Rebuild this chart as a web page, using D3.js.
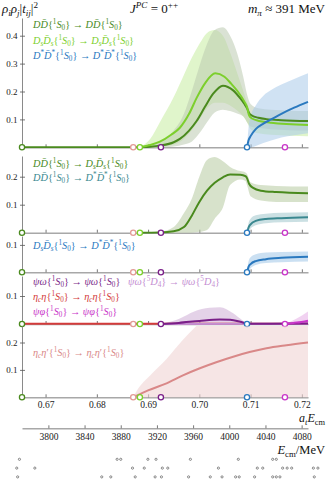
<!DOCTYPE html>
<html>
<head>
<meta charset="utf-8">
<script src="https://cdn.jsdelivr.net/npm/d3@7"></script>
<style>
  body { margin: 0; background: #fff; }
  svg { display: block; }
  text { font-family: "Liberation Serif", "DejaVu Serif", serif; }
</style>
</head>
<body>
<div id="chart-area"></div>
<script>
//============================ DATA ============================
// x axis in lattice units a_t E_cm, second axis in MeV
var xTicks = [0.67, 0.68, 0.69, 0.70, 0.71, 0.72];
var mevTicks = [3800, 3840, 3880, 3920, 3960, 4000, 4040, 4080];
var atInv = 5667; // a_t^-1 in MeV

// thresholds: DD, eta_c eta', DsDs, psi omega, D*D*, psi phi
var thresholds = [0.6654, 0.6871, 0.6884, 0.6925, 0.7093, 0.7167];

// panel 1 : [E, value]
var lineDD = [[0.6654,0],[0.6884,0],[0.6904,0.002],[0.6923,0.006],[0.6950,0.018],[0.6962,0.03],[0.6980,0.06],
  [0.6995,0.095],[0.7011,0.145],[0.7027,0.192],[0.7046,0.221],[0.7066,0.204],[0.7080,0.175],[0.7088,0.155],
  [0.7093,0.14],[0.7097,0.123],[0.7103,0.113],[0.7115,0.106],[0.7131,0.101],[0.7160,0.097],[0.7212,0.094]];
var lineDsDs = [[0.6884,0],[0.6904,0.008],[0.6923,0.02],[0.6945,0.045],[0.6962,0.07],[0.6980,0.12],[0.6995,0.178],
  [0.7012,0.232],[0.7031,0.265],[0.7049,0.253],[0.7062,0.228],[0.7075,0.2],[0.7089,0.16],[0.7093,0.145],
  [0.7097,0.115],[0.7103,0.103],[0.7112,0.097],[0.7140,0.088],[0.7212,0.08]];
var lineDstarDstar = [[0.7093,0],[0.7096,0.025],[0.7100,0.04],[0.7110,0.065],[0.7125,0.085],[0.7140,0.10],
  [0.7160,0.12],[0.7185,0.142],[0.7212,0.163]];
// bands : [E, low, high]
var bandDD = [[0.6884,0,0.003],[0.6923,0,0.02],[0.6950,0.003,0.06],[0.6970,0.01,0.12],[0.6985,0.02,0.2],
  [0.7000,0.05,0.29],[0.7015,0.09,0.37],[0.7030,0.125,0.42],[0.7046,0.135,0.43],[0.7060,0.13,0.40],
  [0.7075,0.12,0.33],[0.7086,0.11,0.25],[0.7093,0.09,0.19],[0.7100,0.075,0.155],[0.7115,0.07,0.14],
  [0.7140,0.065,0.135],[0.7212,0.06,0.13]];
var bandDsDs = [[0.6884,0,0],[0.6904,0,0.03],[0.6923,0.002,0.09],[0.6950,0.01,0.18],[0.6970,0.03,0.26],
  [0.6985,0.06,0.32],[0.7000,0.10,0.37],[0.7015,0.14,0.41],[0.7030,0.16,0.42],[0.7046,0.16,0.40],
  [0.7060,0.15,0.34],[0.7075,0.13,0.26],[0.7086,0.11,0.20],[0.7093,0.09,0.16],[0.7100,0.065,0.125],
  [0.7115,0.05,0.11],[0.7140,0.045,0.105],[0.7212,0.04,0.10]];
var bandDstarDstar = [[0.7093,0,0],[0.7096,0,0.07],[0.7100,0,0.11],[0.7110,0.005,0.15],[0.7125,0.015,0.185],
  [0.7140,0.024,0.205],[0.7160,0.035,0.225],[0.7185,0.043,0.245],[0.7212,0.05,0.265]];

// panel 2
var lineDDtoDsDs = [[0.6884,0],[0.6923,0.001],[0.6950,0.005],[0.6970,0.02],[0.6985,0.06],[0.7000,0.11],
  [0.7015,0.15],[0.7030,0.178],[0.7046,0.198],[0.7060,0.208],[0.7080,0.207],[0.7090,0.202],[0.7093,0.195],
  [0.7097,0.175],[0.7105,0.16],[0.7120,0.15],[0.7150,0.145],[0.7212,0.141]];
var bandDDtoDsDs = [[0.6884,0,0],[0.6923,0,0.003],[0.6950,0,0.02],[0.6970,0,0.07],[0.6985,0,0.12],
  [0.7000,0.003,0.20],[0.7015,0.01,0.26],[0.7030,0.05,0.27],[0.7046,0.09,0.255],[0.7060,0.17,0.235],
  [0.7080,0.19,0.22],[0.7090,0.185,0.215],[0.7093,0.17,0.21],[0.7100,0.13,0.18],[0.7120,0.115,0.17],
  [0.7150,0.11,0.167],[0.7212,0.11,0.165]];
var lineDDtoDstar = [[0.7093,0],[0.7096,0.018],[0.7100,0.03],[0.7110,0.042],[0.7130,0.049],[0.7160,0.052],[0.7212,0.055]];
var bandDDtoDstar = [[0.7093,0,0],[0.7096,0.005,0.035],[0.7100,0.015,0.05],[0.7110,0.027,0.062],
  [0.7130,0.034,0.068],[0.7160,0.037,0.071],[0.7212,0.039,0.073]];

// panel 3
var lineDsDstoDstar = [[0.7093,0],[0.7096,0.02],[0.7100,0.03],[0.7110,0.041],[0.7130,0.048],[0.7160,0.053],[0.7212,0.057]];
var bandDsDstoDstar = [[0.7093,0,0],[0.7096,0.005,0.04],[0.7100,0.015,0.055],[0.7110,0.027,0.066],
  [0.7130,0.034,0.072],[0.7160,0.037,0.074],[0.7212,0.039,0.076]];

// panel 4
var lineEtaEta = [[0.6654,0.001],[0.7212,0.001]];
var linePsiOmegaD = [[0.6925,0],[0.7212,0.001]];
var linePsiOmega = [[0.6925,0],[0.6960,0.004],[0.7000,0.011],[0.7040,0.016],[0.7060,0.015],[0.7080,0.008],
  [0.7093,0.002],[0.7110,0.001],[0.7212,0.002]];
var bandPsiOmega = [[0.6925,0,0],[0.6950,0,0.012],[0.6962,0,0.02],[0.6990,0,0.045],[0.7020,0.002,0.058],
  [0.7040,0.004,0.06],[0.7066,0.003,0.038],[0.7085,0,0.012],[0.7093,0,0.004],[0.7110,0,0.003],[0.7212,0,0.003]];
var linePsiPhi = [[0.7167,0],[0.7190,0.005],[0.7212,0.012]];
var bandPsiPhi = [[0.7167,0,0],[0.7190,0,0.02],[0.7212,0,0.045]];

// panel 5
var lineEtaEtap = [[0.6871,0],[0.6880,0.008],[0.6900,0.025],[0.6936,0.051],[0.6968,0.08],[0.7001,0.106],
  [0.7033,0.128],[0.7066,0.148],[0.7098,0.165],[0.7131,0.179],[0.7170,0.19],[0.7212,0.2]];
var bandEtaEtap = [[0.6871,0,0],[0.6880,0,0.03],[0.6904,0,0.08],[0.6936,0,0.14],[0.6968,0,0.21],
  [0.6994,0,0.26],[0.7030,0,0.32],[0.7212,0,0.5]];

// finite-volume levels (MeV), three rows
var levelsRow1 = [3768, 3876, 3880, 3910, 3919, 3957, 4010, 4048, 4052];
var levelsRow2 = [3765, 3785, 3893, 3906, 3926, 3932, 3988, 4031, 4037, 4059, 4064, 4069, 4093, 4098];
var levelsRow3 = [3766, 3859, 3869, 3896, 3918, 3925, 3955, 3979, 3992, 4007, 4011, 4028, 4048, 4052, 4056, 4094];

//============================ LAYOUT ============================
var W = 327, H = 479;
var colors = {
  dd: "#4a8a1e", ds: "#7ccf2c", dstar: "#2a79bf", teal: "#3a8890",
  psiw: "#7a1f88", psiwD: "#c48ed2", eta: "#d33b3b", psiphi: "#c935c9", etap: "#d98888"
};
var thresholdColors = [colors.dd, "#e29a95", colors.ds, colors.psiw, colors.dstar, colors.psiphi];

var svg = d3.select("#chart-area").append("svg")
  .attr("width", W).attr("height", H);

var x = d3.scaleLinear().domain([0.6654, 0.7212]).range([22, 308]);
var xMeV = d3.scaleLinear().domain(x.domain().map(function(d){ return d * atInv; })).range(x.range());

// small markup: ^x / _x raise/lower, [..] groups, `..` roman letters
function richText(sel, str, size) {
  var segs = [], i = 0, roman = false;
  while (i < str.length) {
    var c = str[i], t;
    if (c === '`') { roman = !roman; i++; continue; }
    if (c === '^' || c === '_') {
      var pos = c === '^' ? 1 : -1; i++;
      var rm = roman;
      if (str[i] === '[') { var j = str.indexOf(']', i); t = str.slice(i + 1, j); i = j + 1; }
      else { t = str[i]; i++; }
      if (t[0] === '`') { rm = true; t = t.replace(/`/g, ''); }
      segs.push({ t: t, pos: pos, roman: rm });
      continue;
    }
    t = c; i++;
    while (i < str.length && /[\u0300-\u036f]/.test(str[i])) { t += str[i]; i++; }
    segs.push({ t: t, pos: 0, roman: roman });
  }
  var cur = 0;
  segs.forEach(function(s) {
    var italic = !s.roman && /[A-Za-z\u0370-\u03ff]/.test(s.t);
    var off = s.pos === 1 ? -0.38 * size : (s.pos === -1 ? 0.22 * size : 0);
    sel.append("tspan")
      .attr("dy", (off - cur).toFixed(2))
      .style("font-size", (s.pos ? size * 0.7 : size) + "px")
      .style("font-style", italic ? "italic" : "normal")
      .text(s.t);
    cur = off;
  });
  return sel;
}

function label(g, xp, yp, str, color, size, anchor) {
  var t = g.append("text").attr("x", xp).attr("y", yp)
    .attr("fill", color).attr("text-anchor", anchor || "start");
  richText(t, str, size);
}

var panels = [
  { base: 147.3, ppu: 279, top: 18, yt: [0.1, 0.2, 0.3, 0.4],
    bands: [[bandDsDs, "#c6eca0", 0.55], [bandDD, "#bccbb0", 0.55], [bandDstarDstar, "#a9cbe9", 0.55]],
    lines: [[lineDD, colors.dd], [lineDsDs, colors.ds], [lineDstarDstar, colors.dstar]],
    labels: [["DD\u0304{^1S_0} \u2192 DD\u0304{^1S_0}", colors.dd, 28],
             ["D_sD\u0304_s{^1S_0} \u2192 D_sD\u0304_s{^1S_0}", colors.ds, 43.5],
             ["D^*D\u0304^*{^1S_0} \u2192 D^*D\u0304^*{^1S_0}", colors.dstar, 58.5]] },
  { base: 232.7, ppu: 280, top: 156, yt: [0.1, 0.2],
    bands: [[bandDDtoDsDs, "#bccfa8", 0.6], [bandDDtoDstar, "#a8cbd0", 0.6]],
    lines: [[lineDDtoDsDs, colors.dd], [lineDDtoDstar, colors.teal]],
    labels: [["DD\u0304{^1S_0} \u2192 D_sD\u0304_s{^1S_0}", colors.dd, 167],
             ["DD\u0304{^1S_0} \u2192 D^*D\u0304^*{^1S_0}", colors.teal, 180.5]] },
  { base: 272.3, ppu: 274, top: 236, yt: [0.1],
    bands: [[bandDsDstoDstar, "#a9cbe9", 0.6]],
    lines: [[lineDsDstoDstar, colors.dstar]],
    labels: [["D_sD\u0304_s{^1S_0} \u2192 D^*D\u0304^*{^1S_0}", colors.dstar, 248.5]] },
  { base: 324, ppu: 280, top: 276, yt: [0.1],
    bands: [[bandPsiOmega, "#c9a6d2", 0.5], [bandPsiPhi, "#e3a6e3", 0.5]],
    lines: [[lineEtaEta, colors.eta], [linePsiOmegaD, colors.psiwD], [linePsiOmega, colors.psiw], [linePsiPhi, colors.psiphi]],
    labels: [["\u03c8\u03c9{^1S_0} \u2192 \u03c8\u03c9{^1S_0}", colors.psiw, 284.5],
             ["\u03b7_c\u03b7{^1S_0} \u2192 \u03b7_c\u03b7{^1S_0}", colors.eta, 299.5],
             ["\u03c8\u03c6{^1S_0} \u2192 \u03c8\u03c6{^1S_0}", colors.psiphi, 314.5]],
    extra: ["\u03c8\u03c9{^5D_4} \u2192 \u03c8\u03c9{^5D_4}", colors.psiwD, 128, 284.5] },
  { base: 397.3, ppu: 274, top: 326, yt: [0.1, 0.2],
    bands: [[bandEtaEtap, "#f0d4d4", 0.6]],
    lines: [[lineEtaEtap, colors.etap]],
    labels: [["\u03b7_c\u03b7\u2032{^1S_0} \u2192 \u03b7_c\u03b7\u2032{^1S_0}", colors.etap, 356]] }
];

panels.forEach(function(p, k) {
  var y = d3.scaleLinear().domain([0, (p.base - p.top) / p.ppu]).range([p.base, p.top]);
  var g = svg.append("g");

  g.append("clipPath").attr("id", "clip" + k)
    .append("rect").attr("x", 22).attr("y", p.top).attr("width", 287).attr("height", p.base - p.top + 1);

  // axes
  var xa = g.append("g").attr("class", "x axis")
    .attr("transform", "translate(0," + p.base + ")")
    .call(d3.axisBottom(x).tickValues(xTicks).tickSize(-3).tickSizeOuter(0).tickPadding(4)
      .tickFormat(k === panels.length - 1 ? d3.format(".2f") : ""));
  xa.select(".domain").attr("stroke", "#a8a8a8").attr("stroke-width", 1.4);
  xa.selectAll(".tick line").attr("stroke", "#555").attr("stroke-width", 0.8);
  xa.selectAll("text").attr("font-size", "9.5px").attr("fill", "#222")
    .attr("font-family", "Liberation Serif, serif");

  var ya = g.append("g").attr("class", "y axis")
    .attr("transform", "translate(22,0)")
    .call(d3.axisLeft(y).tickValues(p.yt).tickSize(-3).tickSizeOuter(0).tickPadding(4.5).tickFormat(d3.format(".1f")));
  ya.select(".domain").attr("stroke", "#8a8a8a").attr("stroke-width", 1);
  ya.selectAll(".tick line").attr("stroke", "#555").attr("stroke-width", 0.8).attr("x1", -2);
  ya.selectAll("text").attr("font-size", "9px").attr("fill", "#222")
    .attr("font-family", "Liberation Serif, serif");

  var body = g.append("g").attr("clip-path", "url(#clip" + k + ")");

  var area = d3.area().curve(d3.curveMonotoneX)
    .x(function(d){ return x(d[0]); })
    .y0(function(d){ return y(d[1]); })
    .y1(function(d){ return y(d[2]); });
  p.bands.forEach(function(b) {
    body.append("path").datum(b[0]).attr("d", area)
      .attr("fill", b[1]).attr("fill-opacity", b[2]);
  });

  var line = d3.line().curve(d3.curveMonotoneX)
    .x(function(d){ return x(d[0]); })
    .y(function(d){ return y(d[1]); });
  p.lines.forEach(function(l) {
    body.append("path").datum(l[0]).attr("d", line)
      .attr("fill", "none").attr("stroke", l[1]).attr("stroke-width", 2);
  });

  // threshold circles
  g.selectAll("circle.thr").data(thresholds).enter().append("circle")
    .attr("class", "thr")
    .attr("cx", function(d){ return x(d); })
    .attr("cy", p.base)
    .attr("r", 2.6)
    .attr("fill", "#fff")
    .attr("stroke", function(d, i){ return thresholdColors[i]; })
    .attr("stroke-width", 1.3);

  p.labels.forEach(function(l) { label(g, 33, l[2], l[0], l[1], 10.3); });
  if (p.extra) label(g, p.extra[2], p.extra[3], p.extra[0], p.extra[1], 10.3);
});

// header
label(svg, 2, 13, "\u03c1_i\u03c1_j|t_[ij]|^2", "#111", 13);
label(svg, 130, 13, "J^[PC] = 0^[++]", "#111", 13);
label(svg, 325, 13, "m_\u03c0 \u2248 391 `MeV`", "#111", 13, "end");

label(svg, 325, 422, "a_tE_[`cm`]", "#111", 12, "end");

// MeV axis
var ma = svg.append("g").attr("class", "x axis")
  .attr("transform", "translate(0,428.3)")
  .call(d3.axisBottom(xMeV).tickValues(mevTicks).tickSize(-3).tickSizeOuter(0).tickPadding(5)
    .tickFormat(d3.format("d")));
ma.select(".domain").attr("stroke", "#a8a8a8").attr("stroke-width", 1.4);
ma.selectAll(".tick line").attr("stroke", "#555").attr("stroke-width", 0.8);
ma.selectAll("text").attr("font-size", "9.5px").attr("fill", "#222")
  .attr("font-family", "Liberation Serif, serif");
label(svg, 325, 454, "E_[`cm`]/`MeV`", "#111", 12.5, "end");

// finite-volume spectrum
[levelsRow1, levelsRow2, levelsRow3].forEach(function(row, r) {
  svg.selectAll("circle.lev" + r).data(row).enter().append("circle")
    .attr("class", "lev" + r)
    .attr("cx", function(d){ return xMeV(d); })
    .attr("cy", 459.3 + r * 8.8)
    .attr("r", 1.1)
    .attr("fill", "#fff")
    .attr("stroke", "#444")
    .attr("stroke-width", 0.6);
});
</script>
</body>
</html>
